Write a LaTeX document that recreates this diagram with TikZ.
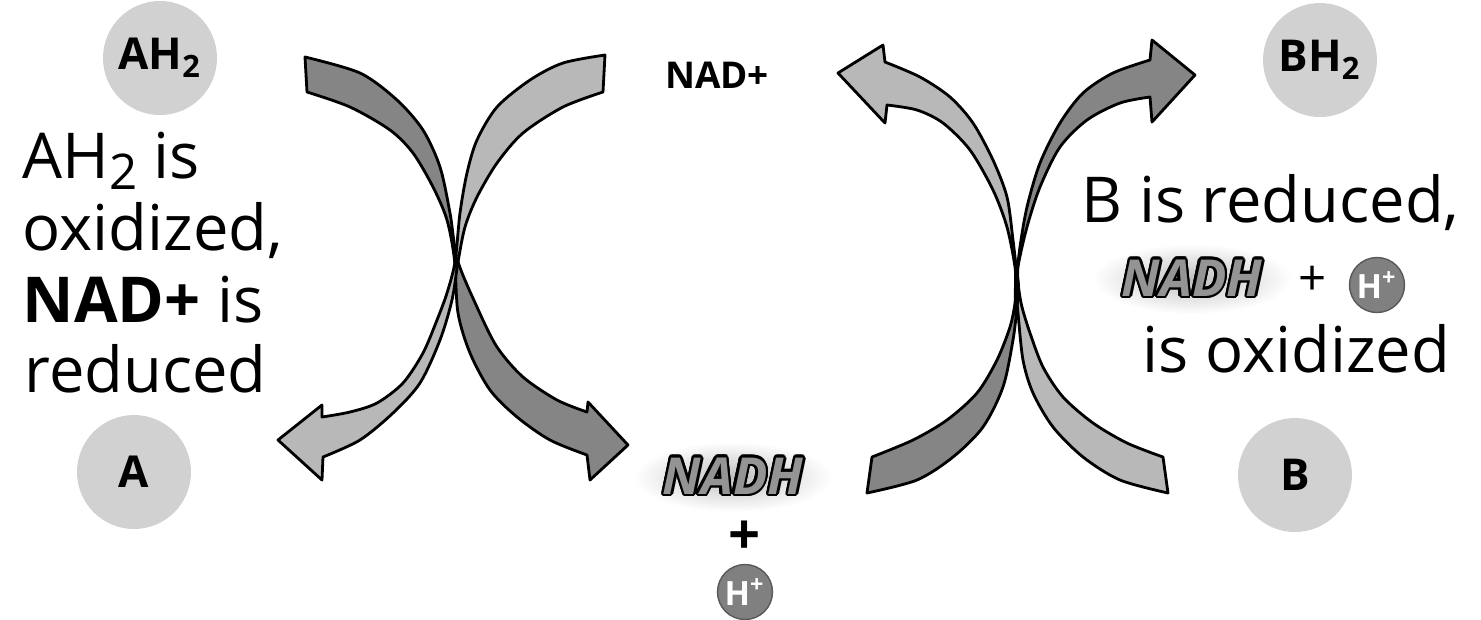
\documentclass[tikz,border=0pt]{standalone}
\usepackage{fontspec}
\setmainfont{Open Sans}
\usepackage[copies]{contour}
\usetikzlibrary{shapes.geometric, positioning}
\contourlength{0.7pt}
\newcommand{\nadh}{\contour{black}{\textcolor{black!42}{\bfseries\itshape NADH}}}

\begin{document}
\begin{tikzpicture}[x=0.1mm, y=-0.1mm,
    mol/.style={circle, fill=black!18, minimum size=11.4mm, inner sep=0pt, font=\fontsize{12.5}{12.5}\selectfont\bfseries},
    halo/.style={ellipse, shade, inner color=black!25, outer color=white, minimum width=18mm, minimum height=7mm, inner sep=0pt, font=\fontsize{14.5}{14.5}\selectfont},
    hion/.style={circle, fill=black!50, draw=black!65, thin, minimum size=5.5mm, inner sep=0pt, text=white, font=\fontsize{9.5}{9.5}\selectfont\bfseries},
    big/.style={font=\fontsize{18}{20}\selectfont, inner sep=0pt, anchor=base west},
    dark arrow/.style={fill=black!48, draw=black, line width=0.8pt, line join=round},
    light arrow/.style={fill=black!28, draw=black, line width=0.8pt, line join=round}]

\useasboundingbox (0,0) rectangle (1481,619);

\filldraw[dark arrow] plot[smooth] coordinates {(305,57) (360,73) (397,100) (423,130) (440,167) (450,213) (457.5,260) (477,307) (497,347) (523,377) (557,400) (587,412)}
    -- (588,402) -- (628,445) -- (590,480)
    -- plot[smooth] coordinates {(587,455) (550,440) (517,417) (490,390) (470,353) (458,313) (454.5,260) (447,220) (433,187) (413,153) (390,130) (350,107) (307,92)} -- cycle;
\filldraw[light arrow] plot[smooth] coordinates {(605,55) (563,63) (530,80) (497,107) (477,140) (467,173) (460,213) (455,262) (447,293) (437,320) (423,353) (403,383) (377,403) (350,412) (322,417)}
    -- (322,405) -- (278,440) -- (322,480)
    -- plot[smooth] coordinates {(323,457) (360,440) (393,413) (420,383) (440,340) (452,300) (458,262) (465,227) (477,197) (497,163) (523,133) (563,107) (603,92)} -- cycle;

\filldraw[light arrow] plot[smooth] coordinates {(1163,457) (1127,443) (1093,423) (1063,397) (1043,367) (1030,333) (1022,307) (1018.5,287) (1013,240) (1007,197) (993,160) (973,123) (950,97) (920,77) (885,62)}
    -- (883,45) -- (838,73) -- (885,123)
    -- plot[smooth] coordinates {(887,105) (917,110) (943,123) (970,150) (993,190) (1007,227) (1015,267) (1015.5,287) (1018,313) (1023,360) (1033,393) (1053,427) (1083,457) (1120,480) (1168,493)} -- cycle;
\filldraw[dark arrow] plot[smooth] coordinates {(872,457) (913,440) (947,420) (977,393) (997,360) (1010,327) (1015,303) (1015.5,287) (1020,247) (1027,207) (1040,163) (1060,123) (1083,93) (1113,73) (1150,60)}
    -- (1152,40) -- (1195,75) -- (1152,122)
    -- plot[smooth] coordinates {(1150,97) (1120,103) (1087,120) (1060,147) (1040,187) (1027,227) (1018,267) (1018.5,287) (1017,307) (1013,340) (1003,387) (983,427) (953,457) (917,480) (867,493)} -- cycle;

\node[mol] (ah2) at (160,58) {AH\textsubscript{2}};
\node[mol] (bh2) at (1320,60) {BH\textsubscript{2}};
\node[mol] (a) at (134,472) {A};
\node[mol] (b) at (1295,475) {B};

\node[font=\fontsize{10.5}{10.5}\selectfont\bfseries] (nad) at (717,75) {NAD+};
\node[halo] (nadh1) at (733,477) {\nadh};
\node[font=\fontsize{16}{16}\selectfont\bfseries] (plus1) at (745,538) {+};
\node[hion] (h1) at (745,592) {H\textsuperscript{+}};

\node[big] (l1) at (22,178) {AH\raisebox{-3.4pt}{\fontsize{14}{14}\selectfont 2} is};
\node[big] (l2) at (22,250) {oxidized,};
\node[big] (l3) at (22,322) {\textbf{NAD+} is};
\node[big] (l4) at (24,392) {reduced};

\node[big] (r1) at (1081,222) {B is reduced,};
\node[halo] (nadh2) at (1192,279) {\nadh};
\node[font=\fontsize{14}{14}\selectfont] (plus2) at (1313,281) {+};
\node[hion] (h2) at (1377,285) {H\textsuperscript{+}};
\node[big] (r3) at (1142,372) {is oxidized};
\end{tikzpicture}
\end{document}
